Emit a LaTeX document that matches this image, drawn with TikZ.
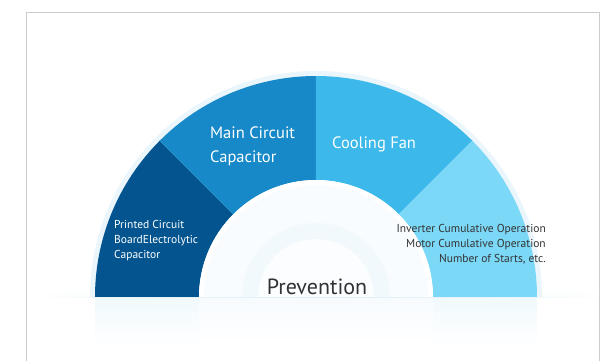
\documentclass[tikz,border=0pt]{standalone}
\usepackage{fontspec}
\setmainfont{PT Sans}
\usetikzlibrary{fadings}
\definecolor{darkseg}{HTML}{03548F}
\definecolor{mainseg}{HTML}{1789C8}
\definecolor{coolseg}{HTML}{3CB9EA}
\definecolor{lightseg}{HTML}{7CD8F7}
\definecolor{glowc}{HTML}{EAF6FC}
\definecolor{floorc}{HTML}{DDEEF6}
\definecolor{textc}{HTML}{333333}
\definecolor{framec}{HTML}{CCCCCC}
\tikzfading[name=fade sides,left color=transparent!100,right color=transparent!100,
  middle color=transparent!0]
\begin{document}
\begin{tikzpicture}[x=1pt,y=1pt,
    bigtext/.style={font=\fontsize{16.5}{24}\selectfont,text=white,align=left,inner sep=0pt},
    smalltext/.style={font=\fontsize{11.5}{15}\selectfont,inner sep=0pt}]
  \useasboundingbox (-316,-63) rectangle (287,297);
  \draw[framec,line width=0.8pt] (-290,-70) -- (-290,285) -- (283,285) -- (283,-70);
  % floor strip
  \shade[top color=white,bottom color=floorc,path fading=fade sides] (-282,0) rectangle (290,8);
  % glow round the arch
  \fill[glowc] (180:226) arc[start angle=180,end angle=0,radius=226] -- cycle;
  % four segments
  \fill[darkseg] (180:221) arc[start angle=180,end angle=135,radius=221]
    -- (135:117) arc[start angle=135,end angle=180,radius=117] -- cycle;
  \fill[mainseg] (135:221) arc[start angle=135,end angle=90,radius=221]
    -- (90:117) arc[start angle=90,end angle=135,radius=117] -- cycle;
  \fill[coolseg] (90:221) arc[start angle=90,end angle=45,radius=221]
    -- (45:117) arc[start angle=45,end angle=90,radius=117] -- cycle;
  \fill[lightseg] (45:221) arc[start angle=45,end angle=0,radius=221]
    -- (0:117) arc[start angle=0,end angle=45,radius=117] -- cycle;
  % inner rings
  \fill[white] (180:117) arc[start angle=180,end angle=0,radius=117] -- cycle;
  \fill[glowc!35] (180:112) arc[start angle=180,end angle=0,radius=112] -- cycle;
  \fill[glowc!65] (180:74) arc[start angle=180,end angle=0,radius=74] -- cycle;
  \fill[glowc!20] (180:58) arc[start angle=180,end angle=0,radius=58] -- cycle;
  % reflection below the floor
  \fill[glowc!70,path fading=south] (-221,0) rectangle (-117,-48);
  \fill[glowc!70,path fading=south] (117,0) rectangle (221,-48);
  \fill[glowc!40,path fading=south] (-117,0) rectangle (117,-48);
  \draw[floorc,line width=0.8pt,path fading=fade sides] (-282,0) -- (290,0);
  % labels
  \node[bigtext,anchor=west] (maincap) at (-106,151) {Main Circuit\\Capacitor};
  \node[bigtext,anchor=west] (fan) at (16,153) {Cooling Fan};
  \node[smalltext,text=white,align=left,anchor=west] (board) at (-202,56)
    {Printed Circuit\\BoardElectrolytic\\Capacitor};
  \node[smalltext,text=textc,align=right,anchor=east] (counts) at (230,53)
    {Inverter Cumulative Operation\\Motor Cumulative Operation\\Number of Starts, etc.};
  \node[font=\fontsize{22}{24}\selectfont,text=textc,inner sep=0pt] (prev) at (1,10) {Prevention};
\end{tikzpicture}
\end{document}
